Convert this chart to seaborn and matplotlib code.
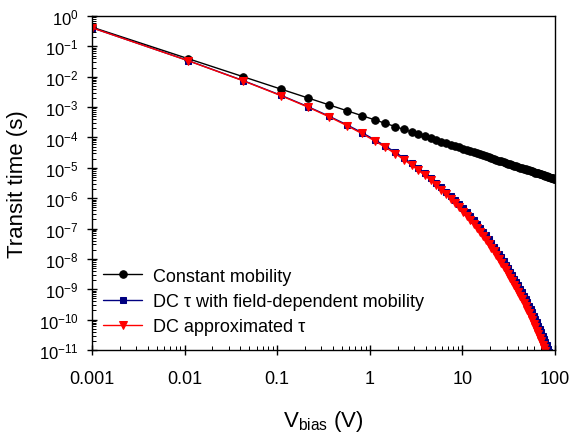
import matplotlib
matplotlib.use("Agg")
import matplotlib.pyplot as plt
import matplotlib.ticker as ticker
import seaborn as sns

# bias voltage (V)
v_bias = [
    0.001, 0.011, 0.043, 0.109, 0.216, 0.366, 0.570, 0.819, 1.124, 1.476,
    1.877, 2.326, 2.822, 3.349, 3.92, 4.54, 5.20, 5.90, 6.66, 7.45,
    8.29, 9.18, 10.11, 11.09, 12.11, 13.18, 14.29, 15.44, 16.65, 17.89,
    19.18, 20.52, 21.90, 23.33, 24.80, 26.32, 27.88, 29.48, 31.14, 32.83,
    34.57, 36.36, 38.19, 40.07, 41.99, 43.96, 45.97, 48.02, 50.13, 52.27,
    54.46, 56.70, 58.98, 61.31, 63.68, 66.10, 68.56, 71.06, 73.62, 76.21,
    78.85, 81.54, 84.27, 87.05, 89.87, 92.74, 95.65, 98.60, 100.0,
]

# transit time (s), constant mobility
t_const = [
    0.430, 0.0391, 0.0100, 0.00394, 0.00199, 1.175e-3, 7.54e-4, 5.25e-4, 3.83e-4, 2.91e-4,
    2.29e-4, 1.849e-4, 1.524e-4, 1.284e-4, 1.097e-4, 9.48e-5, 8.27e-5, 7.28e-5, 6.46e-5, 5.77e-5,
    5.19e-5, 4.68e-5, 4.25e-5, 3.88e-5, 3.55e-5, 3.26e-5, 3.01e-5, 2.78e-5, 2.58e-5, 2.40e-5,
    2.24e-5, 2.10e-5, 1.963e-5, 1.843e-5, 1.734e-5, 1.634e-5, 1.543e-5, 1.458e-5, 1.381e-5, 1.310e-5,
    1.243e-5, 1.182e-5, 1.126e-5, 1.073e-5, 1.024e-5, 9.78e-6, 9.35e-6, 8.95e-6, 8.58e-6, 8.23e-6,
    7.90e-6, 7.58e-6, 7.29e-6, 7.01e-6, 6.75e-6, 6.51e-6, 6.27e-6, 6.05e-6, 5.84e-6, 5.64e-6,
    5.45e-6, 5.27e-6, 5.10e-6, 4.94e-6, 4.79e-6, 4.64e-6, 4.50e-6, 4.36e-6, 4.30e-6,
]

# transit time (s), DC tau with field-dependent mobility
t_dc_field = [
    0.411, 0.0337, 0.00745, 0.00247, 1.028e-3, 4.97e-4, 2.58e-4, 1.453e-4, 8.49e-5, 5.19e-5,
    3.27e-5, 2.12e-5, 1.402e-5, 9.55e-6, 6.59e-6, 4.60e-6, 3.25e-6, 2.31e-6, 1.656e-6, 1.195e-6,
    8.68e-7, 6.34e-7, 4.65e-7, 3.43e-7, 2.54e-7, 1.884e-7, 1.404e-7, 1.050e-7, 7.87e-8, 5.92e-8,
    4.46e-8, 3.37e-8, 2.55e-8, 1.936e-8, 1.472e-8, 1.121e-8, 8.55e-9, 6.53e-9, 5.00e-9, 3.83e-9,
    2.94e-9, 2.26e-9, 1.739e-9, 1.340e-9, 1.033e-9, 7.98e-10, 6.16e-10, 4.77e-10, 3.69e-10, 2.86e-10,
    2.22e-10, 1.722e-10, 1.338e-10, 1.040e-10, 8.09e-11, 6.30e-11, 4.91e-11, 3.83e-11, 2.99e-11, 2.33e-11,
    1.822e-11, 1.423e-11, 1.113e-11, 8.71e-12, 6.82e-12, 5.34e-12, 4.18e-12, 3.28e-12, 2.93e-12,
]

# transit time (s), DC approximated tau
t_dc_approx = [
    0.410, 0.0334, 0.00733, 0.00240, 9.91e-4, 4.74e-4, 2.43e-4, 1.351e-4, 7.80e-5, 4.71e-5,
    2.935e-5, 1.877e-5, 1.226e-5, 8.25e-6, 5.63e-6, 3.88e-6, 2.71e-6, 1.903e-6, 1.348e-6, 9.61e-7,
    6.90e-7, 4.98e-7, 3.61e-7, 2.63e-7, 1.921e-7, 1.410e-7, 1.038e-7, 7.67e-8, 5.68e-8, 4.22e-8,
    3.14e-8, 2.35e-8, 1.756e-8, 1.316e-8, 9.89e-9, 7.44e-9, 5.61e-9, 4.23e-9, 3.20e-9, 2.42e-9,
    1.839e-9, 1.396e-9, 1.061e-9, 8.08e-10, 6.15e-10, 4.70e-10, 3.58e-10, 2.74e-10, 2.10e-10, 1.605e-10,
    1.231e-10, 9.44e-11, 7.24e-11, 5.57e-11, 4.28e-11, 3.29e-11, 2.53e-11, 1.952e-11, 1.505e-11, 1.160e-11,
    8.96e-12, 6.92e-12, 5.34e-12, 4.13e-12, 3.20e-12, 2.47e-12, 1.915e-12, 1.483e-12, 1.317e-12,
]

sns.set_style("ticks")
plt.rcParams['font.family'] = ['Liberation Sans', 'DejaVu Sans']
plt.rcParams['mathtext.fontset'] = 'custom'
plt.rcParams['mathtext.rm'] = 'Liberation Sans'
plt.rcParams['mathtext.it'] = 'Liberation Sans'
plt.rcParams['text.color'] = 'black'
plt.rcParams['axes.labelcolor'] = 'black'
plt.rcParams['xtick.color'] = 'black'
plt.rcParams['ytick.color'] = 'black'

fig = plt.figure(figsize=(5.7, 4.35), dpi=100)
ax = fig.add_axes([0.1614, 0.1931, 0.8123, 0.7678])

common = dict(ax=ax, estimator=None, sort=False, linewidth=1.0)
sns.lineplot(x=v_bias, y=t_const, color='black', marker='o', markersize=5.4,
             markeredgecolor='black', label='Constant mobility', **common)
sns.lineplot(x=v_bias, y=t_dc_field, color='#000080', marker='s', markersize=4.8,
             markeredgecolor='#000080', label='DC τ with field-dependent mobility', **common)
sns.lineplot(x=v_bias, y=t_dc_approx, color='#ff0000', marker='v', markersize=5.8,
             markeredgecolor='#ff0000', label='DC approximated τ', **common)

ax.set_xscale('log')
ax.set_yscale('log')
ax.set_xlim(0.001, 100)
ax.set_ylim(1e-11, 1)

ax.xaxis.set_major_locator(ticker.LogLocator(base=10, numticks=10))
ax.xaxis.set_minor_locator(ticker.LogLocator(base=10, subs=range(2, 10), numticks=20))
ax.xaxis.set_major_formatter(ticker.FuncFormatter(lambda v, _: f'{v:g}'))
ax.xaxis.set_minor_formatter(ticker.NullFormatter())
ax.yaxis.set_major_locator(ticker.LogLocator(base=10, numticks=20))
ax.yaxis.set_minor_locator(ticker.LogLocator(base=10, subs=range(2, 10), numticks=20))
ax.yaxis.set_minor_formatter(ticker.NullFormatter())

ax.tick_params(which='major', direction='inout', length=7, width=1.0, labelsize=12,
               bottom=True, left=True, top=False, right=False)
ax.tick_params(which='minor', direction='in', length=3, width=0.7,
               bottom=True, left=True, top=False, right=False)
ax.tick_params(axis='x', which='major', pad=11, labelsize=13)
ax.tick_params(axis='y', which='major', pad=6)
for sp in ax.spines.values():
    sp.set_linewidth(1.0)
    sp.set_color('black')

ax.set_xlabel('V$_{\\mathrm{bias}}$ (V)', fontsize=16, labelpad=15)
ax.set_ylabel('Transit time (s)', fontsize=16, labelpad=8)

ax.legend(loc='lower left', bbox_to_anchor=(0.023, 0.045), frameon=False,
          fontsize=13, handlelength=2.2, handletextpad=0.6, labelspacing=0.45,
          borderpad=0, borderaxespad=0)

plt.savefig('out.png', dpi=100)
